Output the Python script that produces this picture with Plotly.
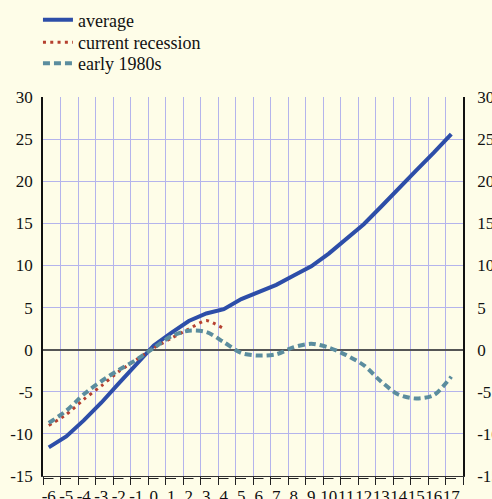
import plotly.graph_objects as go

# ---- data ----
categories = list(range(-6, 18))
tick_labels = [str(c) for c in categories]

average = [-11.6, -10.3, -8.4, -6.3, -4.0, -1.7, 0.5, 2.0, 3.4, 4.3, 4.8, 6.0,
           6.9, 7.7, 8.8, 9.9, 11.4, 13.1, 14.9, 17.0, 19.2, 21.3, 23.4, 25.6]
current_x = list(range(-6, 5))
current_recession = [-9.0, -7.7, -5.9, -4.3, -2.6, -1.2, 0.2, 1.35, 2.45, 3.45, 2.5]
early_1980s = [-8.7, -7.25, -5.3, -3.75, -2.4, -1.2, 0.2, 1.6, 2.25, 2.1, 0.9, -0.4,
               -0.7, -0.55, 0.3, 0.7, 0.25, -0.65, -1.85, -3.8, -5.35, -5.8, -5.4, -3.2]
y_ticks = [30, 25, 20, 15, 10, 5, 0, -5, -10, -15]
y_tick_labels = [str(v) for v in y_ticks]

BG = "#fefde8"
GRID = "#b4b4ec"
FONT = "Liberation Serif, Times New Roman, serif"

W, H = 492, 499
ML, MR, MT, MB = 43, 29, 97, 23
plot_h = H - MT - MB

offset = 0.33
x_range = [categories[0] - offset, categories[-1] + 1 - offset]
boundaries = [c - offset for c in categories] + [categories[-1] + 1 - offset]


def legend_y(px):
    return 1 + (MT - px) / plot_h


fig = go.Figure()
fig.add_trace(go.Scatter(x=categories, y=average, name="average", mode="lines",
                         legend="legend",
                         line=dict(color="#2d4ea8", width=4)))
fig.add_trace(go.Scatter(x=current_x, y=current_recession, name="current recession",
                         mode="lines", legend="legend2",
                         line=dict(color="#b5402f", width=3, dash="3px,4.3px",
                                   shape="spline", smoothing=0.6)))
fig.add_trace(go.Scatter(x=categories, y=early_1980s, name="early 1980s", mode="lines",
                         legend="legend3",
                         line=dict(color="#5b8d9e", width=4, dash="7px,4px",
                                   shape="spline", smoothing=0.8)))
# invisible trace for right axis
fig.add_trace(go.Scatter(x=[categories[0]], y=[0], yaxis="y2", mode="lines",
                         showlegend=False, hoverinfo="skip", line=dict(width=0)))

# bracket-style tick tops under the x axis
for b in boundaries[:-1]:
    fig.add_shape(type="line", xref="x", yref="paper", x0=b, x1=b + 0.6,
                  y0=-2.5 / plot_h, y1=-2.5 / plot_h, line=dict(color="#222", width=1))

leg_common = dict(x=-0.012, xanchor="left", yanchor="middle", bgcolor="rgba(0,0,0,0)",
                  font=dict(family=FONT, size=18, color="#111"), itemwidth=30)

fig.update_layout(
    width=W, height=H,
    margin=dict(l=ML, r=MR, t=MT, b=MB, autoexpand=False),
    paper_bgcolor=BG, plot_bgcolor=BG,
    font=dict(family=FONT, size=17, color="#111"),
    showlegend=True,
    legend=dict(y=legend_y(20), **leg_common),
    legend2=dict(y=legend_y(42.5), **leg_common),
    legend3=dict(y=legend_y(63.5), **leg_common),
    xaxis=dict(range=x_range, tickmode="array", tickvals=categories, ticktext=tick_labels,
               tickangle=0, showgrid=False, zeroline=False, showline=True, linecolor="#333",
               linewidth=1, ticks="", tickfont=dict(size=17), ticklabelstandoff=5,
               minor=dict(tickmode="array", tickvals=boundaries, showgrid=True,
                          gridcolor=GRID, gridwidth=1, ticks="outside", ticklen=8,
                          tickcolor="#222", tickwidth=1)),
    yaxis=dict(range=[-15, 30], tickmode="array", tickvals=y_ticks, ticktext=y_tick_labels,
               showgrid=True, gridcolor=GRID, gridwidth=1, zeroline=True,
               zerolinecolor="#555", zerolinewidth=1.5, showline=True, linecolor="#111",
               linewidth=1.5, ticks="outside", ticklen=5, tickcolor="rgba(0,0,0,0)"),
    yaxis2=dict(range=[-15, 30], tickmode="array", tickvals=y_ticks, ticktext=y_tick_labels,
                overlaying="y", side="right", showgrid=False, zeroline=False, showline=True,
                linecolor="#111", linewidth=1.5, ticks="outside", ticklen=9,
                tickcolor="rgba(0,0,0,0)"),
)

fig.write_html("out.html", config={"displayModeBar": False},
               post_script="document.body.style.margin='0';document.body.style.overflow='hidden';")
